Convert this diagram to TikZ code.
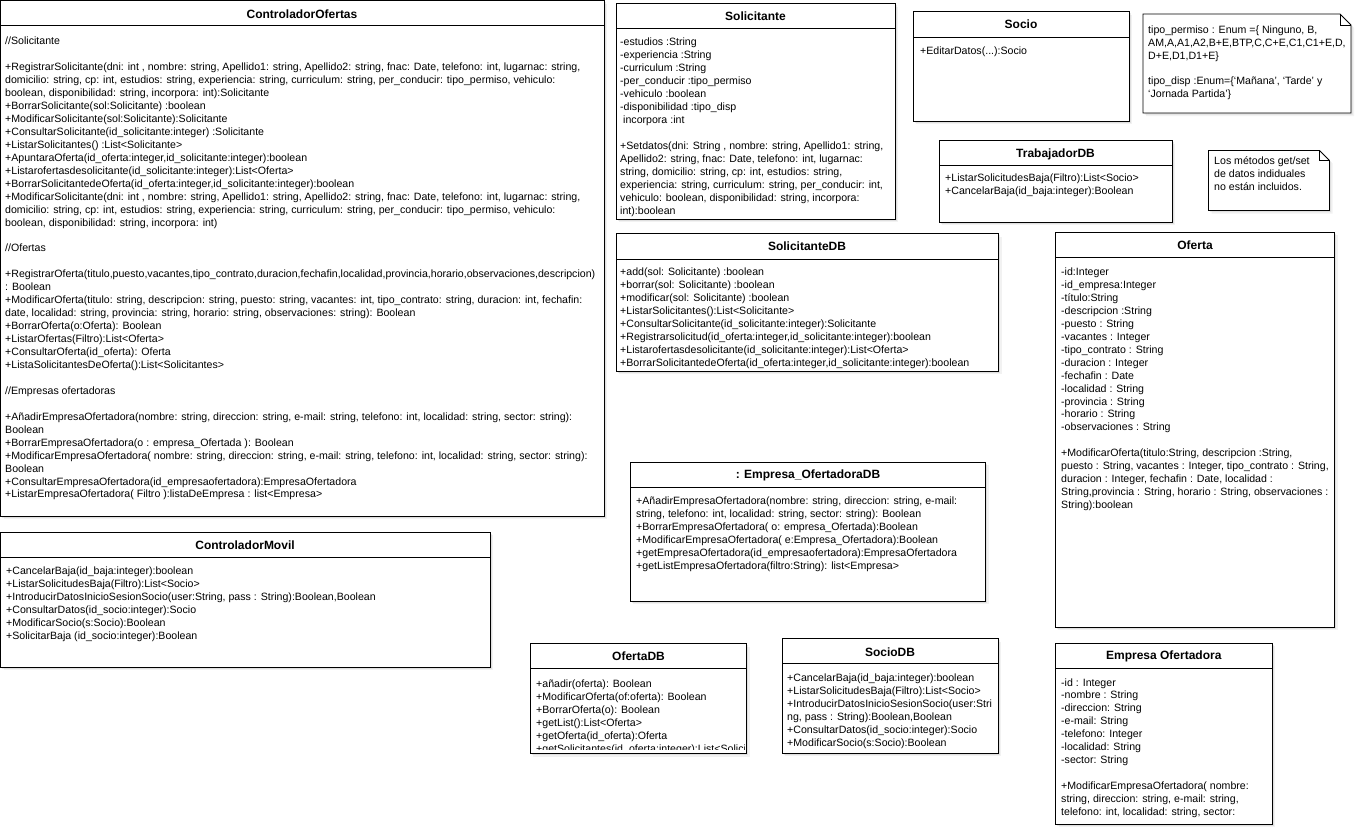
\documentclass[tikz,border=0pt]{standalone}
\usepackage{fontspec}
\setmainfont{Liberation Sans}
\usetikzlibrary{shadows}
\tikzset{
  classbox/.style={draw=black, line width=0.9pt, fill=white,
    drop shadow={shadow xshift=1.5pt, shadow yshift=-1.5pt, opacity=.16},
    drop shadow={shadow xshift=3pt, shadow yshift=-3pt, opacity=.10}},
  sepline/.style={draw=black, line width=0.9pt},
  title/.style={anchor=base, inner sep=0pt, font=\bfseries\fontsize{12}{14}\selectfont},
  body/.style={anchor=north west, inner sep=0pt, align=left, yshift=9.07pt,
    font=\fontsize{10.6}{12.95}\selectfont},
}
\newcommand{\gap}{\\[12.95pt]}
\begin{document}
\begin{tikzpicture}[x=1pt, y=-1pt]
\useasboundingbox[fill=white] (0,0) rectangle (1359,828);

% ---------------- ControladorOfertas
\path[classbox] (0.6,0.6) rectangle (604,516);
\draw[sepline] (0.6,25) -- (604,25);
\node[title] (coT) at (302,18.3) {ControladorOfertas};
\node[body] (coB) at (5,44.5) {\strut//Solicitante\gap
+RegistrarSolicitante(dni: int , nombre: string, Apellido1: string, Apellido2: string, fnac: Date, telefono: int, lugarnac: string,\\
domicilio: string, cp: int, estudios: string, experiencia: string, curriculum: string, per\_conducir: tipo\_permiso, vehiculo:\\
boolean, disponibilidad: string, incorpora: int):Solicitante\\
+BorrarSolicitante(sol:Solicitante) :boolean\\
+ModificarSolicitante(sol:Solicitante):Solicitante\\
+ConsultarSolicitante(id\_solicitante:integer) :Solicitante\\
+ListarSolicitantes() :List<Solicitante>\\
+ApuntaraOferta(id\_oferta:integer,id\_solicitante:integer):boolean\\
+Listarofertasdesolicitante(id\_solicitante:integer):List<Oferta>\\
+BorrarSolicitantedeOferta(id\_oferta:integer,id\_solicitante:integer):boolean\\
+ModificarSolicitante(dni: int , nombre: string, Apellido1: string, Apellido2: string, fnac: Date, telefono: int, lugarnac: string,\\
domicilio: string, cp: int, estudios: string, experiencia: string, curriculum: string, per\_conducir: tipo\_permiso, vehiculo:\\
boolean, disponibilidad: string, incorpora: int)\gap
//Ofertas\gap
+RegistrarOferta(titulo,puesto,vacantes,tipo\_contrato,duracion,fechafin,localidad,provincia,horario,observaciones,descripcion)\\
: Boolean\\
+ModificarOferta(titulo: string, descripcion: string, puesto: string, vacantes: int, tipo\_contrato: string, duracion: int, fechafin:\\
date, localidad: string, provincia: string, horario: string, observaciones: string): Boolean\\
+BorrarOferta(o:Oferta): Boolean\\
+ListarOfertas(Filtro):List<Oferta>\\
+ConsultarOferta(id\_oferta): Oferta\\
+ListaSolicitantesDeOferta():List<Solicitantes>\gap
//Empresas ofertadoras\gap
+AñadirEmpresaOfertadora(nombre: string, direccion: string, e-mail: string, telefono: int, localidad: string, sector: string):\\
Boolean\\
+BorrarEmpresaOfertadora(o : empresa\_Ofertada ): Boolean\\
+ModificarEmpresaOfertadora( nombre: string, direccion: string, e-mail: string, telefono: int, localidad: string, sector: string):\\
Boolean\\
+ConsultarEmpresaOfertadora(id\_empresaofertadora):EmpresaOfertadora\\
+ListarEmpresaOfertadora( Filtro ):listaDeEmpresa : list<Empresa>};

% ---------------- ControladorMovil
\path[classbox] (0.6,532) rectangle (490,667);
\draw[sepline] (0.6,557.5) -- (490,557.5);
\node[title] (cmT) at (245,549.3) {ControladorMovil};
\node[body] (cmB) at (6,574.5) {\strut+CancelarBaja(id\_baja:integer):boolean\\
+ListarSolicitudesBaja(Filtro):List<Socio>\\
+IntroducirDatosInicioSesionSocio(user:String, pass : String):Boolean,Boolean\\
+ConsultarDatos(id\_socio:integer):Socio\\
+ModificarSocio(s:Socio):Boolean\\
+SolicitarBaja (id\_socio:integer):Boolean};

% ---------------- Solicitante
\path[classbox] (616,3.5) rectangle (895,219);
\draw[sepline] (616,28.5) -- (895,28.5);
\node[title] (solT) at (755.5,20.3) {Solicitante};
\node[body] (solB) at (620,45.5) {\strut-estudios :String\\
-experiencia :String\\
-curriculum :String\\
-per\_conducir :tipo\_permiso\\
-vehiculo :boolean\\
-disponibilidad :tipo\_disp\\
\hspace*{3pt}incorpora :int\gap
+Setdatos(dni: String , nombre: string, Apellido1: string,\\
Apellido2: string, fnac: Date, telefono: int, lugarnac:\\
string, domicilio: string, cp: int, estudios: string,\\
experiencia: string, curriculum: string, per\_conducir: int,\\
vehiculo: boolean, disponibilidad: string, incorpora:\\
int):boolean};

% ---------------- Socio
\path[classbox] (913,11.5) rectangle (1129,121);
\draw[sepline] (913,37) -- (1129,37);
\node[title] (socT) at (1021,28.3) {Socio};
\node[body] (socB) at (920,54.5) {\strut+EditarDatos(...):Socio};

% ---------------- Note tipo_permiso
\path[classbox] (1143,14) -- (1340,14) -- (1351,25) -- (1351,113) -- (1143,113) -- cycle;
\draw[sepline] (1340,14) -- (1340,25) -- (1351,25);
\node[body] (n1B) at (1148,33) {\strut tipo\_permiso : Enum =\{ Ninguno, B,\\
AM,A,A1,A2,B+E,BTP,C,C+E,C1,C1+E,D,\\
D+E,D1,D1+E\}\gap
tipo\_disp :Enum=\{`Mañana', `Tarde' y\\
`Jornada Partida'\}};

% ---------------- TrabajadorDB
\path[classbox] (939,140.5) rectangle (1172,222);
\draw[sepline] (939,165) -- (1172,165);
\node[title] (tdbT) at (1055.5,157) {TrabajadorDB};
\node[body] (tdbB) at (945,181) {\strut+ListarSolicitudesBaja(Filtro):List<Socio>\\
+CancelarBaja(id\_baja:integer):Boolean};

% ---------------- Note get/set
\path[classbox] (1208.5,150.5) -- (1319.5,150.5) -- (1329.5,160.5) -- (1329.5,210.5) -- (1208.5,210.5) -- cycle;
\draw[sepline] (1319.5,150.5) -- (1319.5,160.5) -- (1329.5,160.5);
\node[body] (n2B) at (1214,164.5) {\strut Los métodos get/set\\
de datos indiduales\\
no están incluidos.};

% ---------------- SolicitanteDB
\path[classbox] (616,233.5) rectangle (998.5,371);
\draw[sepline] (616,259.5) -- (998.5,259.5);
\node[title] (sdbT) at (807,250.6) {SolicitanteDB};
\node[body] (sdbB) at (620,275.3) {\strut+add(sol: Solicitante) :boolean\\
+borrar(sol: Solicitante) :boolean\\
+modificar(sol: Solicitante) :boolean\\
+ListarSolicitantes():List<Solicitante>\\
+ConsultarSolicitante(id\_solicitante:integer):Solicitante\\
+Registrarsolicitud(id\_oferta:integer,id\_solicitante:integer):boolean\\
+Listarofertasdesolicitante(id\_solicitante:integer):List<Oferta>\\
+BorrarSolicitantedeOferta(id\_oferta:integer,id\_solicitante:integer):boolean};

% ---------------- Oferta
\path[classbox] (1055,232) rectangle (1334.5,627);
\draw[sepline] (1055,257.5) -- (1334.5,257.5);
\node[title] (ofT) at (1195,249) {Oferta};
\node[body] (ofB) at (1061,275.3) {\strut-id:Integer\\
-id\_empresa:Integer\\
-título:String\\
-descripcion :String\\
-puesto : String\\
-vacantes : Integer\\
-tipo\_contrato : String\\
-duracion : Integer\\
-fechafin : Date\\
-localidad : String\\
-provincia : String\\
-horario : String\\
-observaciones : String\gap
+ModificarOferta(titulo:String, descripcion :String,\\
puesto : String, vacantes : Integer, tipo\_contrato : String,\\
duracion : Integer, fechafin : Date, localidad :\\
String,provincia : String, horario : String, observaciones :\\
String):boolean};

% ---------------- Empresa_OfertadoraDB
\path[classbox] (630,462) rectangle (985.5,601);
\draw[sepline] (630,487) -- (985.5,487);
\node[title] (eodbT) at (808,478.3) {: Empresa\_OfertadoraDB};
\node[body] (eodbB) at (636,504.7) {\strut+AñadirEmpresaOfertadora(nombre: string, direccion: string, e-mail:\\
string, telefono: int, localidad: string, sector: string): Boolean\\
+BorrarEmpresaOfertadora( o: empresa\_Ofertada):Boolean\\
+ModificarEmpresaOfertadora( e:Empresa\_Ofertadora):Boolean\\
+getEmpresaOfertadora(id\_empresaofertadora):EmpresaOfertadora\\
+getListEmpresaOfertadora(filtro:String): list<Empresa>};

% ---------------- OfertaDB
\path[classbox] (530,643.5) rectangle (746.5,753.5);
\draw[sepline] (530,668.5) -- (746.5,668.5);
\node[title] (odbT) at (638.5,660) {OfertaDB};
\begin{scope}
\clip (531,669) rectangle (744.5,749);
\node[body] (odbB) at (536,687.5) {\strut+añadir(oferta): Boolean\\
+ModificarOferta(of:oferta): Boolean\\
+BorrarOferta(o): Boolean\\
+getList():List<Oferta>\\
+getOferta(id\_oferta):Oferta\\
+getSolicitantes(id\_oferta:integer):List<Solicitante>};
\end{scope}

% ---------------- SocioDB
\path[classbox] (782,638.5) rectangle (998,753);
\draw[sepline] (782,663.5) -- (998,663.5);
\node[title] (sodbT) at (890,656) {SocioDB};
\node[body] (sodbB) at (787,681.3) {\strut+CancelarBaja(id\_baja:integer):boolean\\
+ListarSolicitudesBaja(Filtro):List<Socio>\\
+IntroducirDatosInicioSesionSocio(user:Stri\\
ng, pass : String):Boolean,Boolean\\
+ConsultarDatos(id\_socio:integer):Socio\\
+ModificarSocio(s:Socio):Boolean};

% ---------------- Empresa Ofertadora
\path[classbox] (1055.5,643) rectangle (1272,824);
\draw[sepline] (1055.5,668) -- (1272,668);
\node[title] (eoT) at (1163.8,659.6) {Empresa Ofertadora};
\node[body] (eoB) at (1061,685.8) {\strut-id : Integer\\
-nombre : String\\
-direccion: String\\
-e-mail: String\\
-telefono: Integer\\
-localidad: String\\
-sector: String\gap
+ModificarEmpresaOfertadora( nombre:\\
string, direccion: string, e-mail: string,\\
telefono: int, localidad: string, sector:};
\end{tikzpicture}
\end{document}
